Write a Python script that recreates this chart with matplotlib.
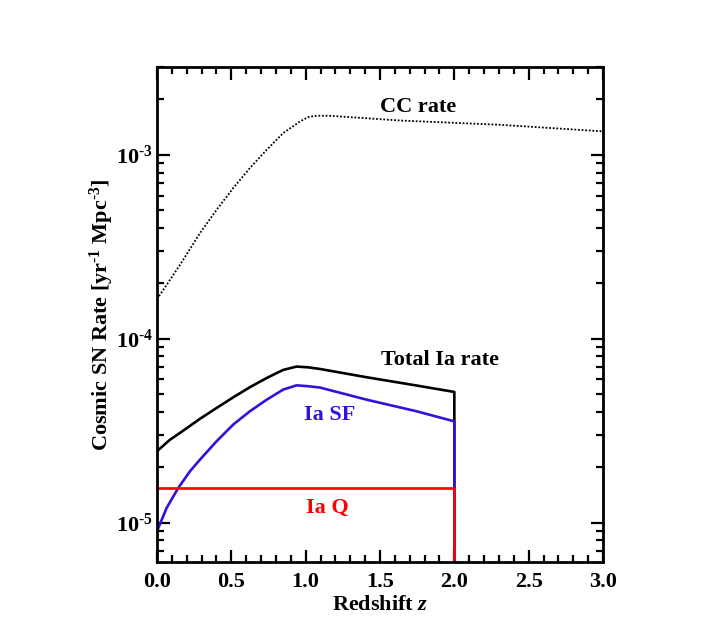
import matplotlib
matplotlib.use("Agg")
import matplotlib.pyplot as plt
from matplotlib.ticker import MultipleLocator, LogLocator, NullFormatter, FixedLocator

# ---- data ----
cc_z = [0.0, 0.036, 0.155, 0.289, 0.401, 0.513, 0.625, 0.738, 0.849, 0.962,
        1.017, 1.074, 1.163, 1.634, 2.307, 3.0]
cc_rate = [1.64e-4, 1.81e-4, 2.52e-4, 3.75e-4, 5.02e-4, 6.59e-4, 8.47e-4, 1.064e-3,
           1.312e-3, 1.517e-3, 1.603e-3, 1.629e-3, 1.629e-3, 1.535e-3, 1.455e-3, 1.340e-3]

tot_z = [0.0, 0.087, 0.177, 0.289, 0.401, 0.513, 0.625, 0.738, 0.849, 0.939,
         1.017, 1.096, 1.41, 1.746, 2.0, 2.0]
ia_total = [2.443e-5, 2.818e-5, 3.162e-5, 3.664e-5, 4.198e-5, 4.797e-5, 5.445e-5,
            6.109e-5, 6.761e-5, 7.047e-5, 6.982e-5, 6.839e-5, 6.166e-5, 5.559e-5,
            5.129e-5, 1e-7]

sf_z = [0.0, 0.065, 0.143, 0.222, 0.289, 0.401, 0.513, 0.625, 0.738, 0.849, 0.939,
        1.017, 1.096, 1.41, 1.746, 2.0, 2.0]
ia_sf = [8.97e-6, 1.202e-5, 1.542e-5, 1.901e-5, 2.198e-5, 2.767e-5, 3.412e-5,
         4.027e-5, 4.656e-5, 5.284e-5, 5.572e-5, 5.51e-5, 5.42e-5, 4.656e-5,
         4.027e-5, 3.548e-5, 1e-7]

q_z = [0.0, 2.0, 2.0]
ia_q = [1.54e-5, 1.54e-5, 1e-7]

xlim = (0.0, 3.0)
ylim = (6.1e-6, 3.0e-3)
xticks = [0.0, 0.5, 1.0, 1.5, 2.0, 2.5, 3.0]
xticklabels = ["0.0", "0.5", "1.0", "1.5", "2.0", "2.5", "3.0"]
yticks = [1e-5, 1e-4, 1e-3]
yticklabels = [r"10$^{\text{-}5}$", r"10$^{\text{-}4}$", r"10$^{\text{-}3}$"]

FONT = "Liberation Serif"
plt.rcParams["font.family"] = [FONT, "DejaVu Serif"]
plt.rcParams["mathtext.fontset"] = "custom"
plt.rcParams["mathtext.rm"] = FONT + ":bold"
plt.rcParams["mathtext.it"] = FONT + ":bold:italic"
plt.rcParams["mathtext.bf"] = FONT + ":bold"
plt.rcParams["font.weight"] = "bold"

fig = plt.figure(figsize=(7.06, 6.42), dpi=100)
ax = fig.add_axes([157/706, 1-562/642, 446/706, 495/642])

ax.plot(cc_z, cc_rate, color="black", lw=1.3, linestyle=(0, (1, 1.0)))
ax.plot(tot_z, ia_total, color="black", lw=1.9)
ax.plot(sf_z, ia_sf, color="#3311dd", lw=1.9)
ax.plot(q_z, ia_q, color="#ff0000", lw=1.9)

ax.set_yscale("log")
ax.set_xlim(*xlim)
ax.set_ylim(*ylim)

ax.xaxis.set_major_locator(FixedLocator(xticks))
ax.set_xticklabels(xticklabels)
ax.xaxis.set_minor_locator(MultipleLocator(0.1))
ax.yaxis.set_major_locator(FixedLocator(yticks))
ax.set_yticklabels(yticklabels)
ax.yaxis.set_minor_locator(LogLocator(base=10, subs=range(2, 10)))
ax.yaxis.set_minor_formatter(NullFormatter())

ax.tick_params(which="both", direction="in", top=True, right=True, width=1.6, labelsize=16)
ax.tick_params(which="major", length=9)
ax.tick_params(which="minor", length=5)
ax.tick_params(axis="x", which="major", pad=7)
ax.tick_params(axis="y", which="major", pad=3)
for s in ax.spines.values():
    s.set_linewidth(2.0)
for lab in ax.get_xticklabels() + ax.get_yticklabels():
    lab.set_fontweight("bold")

ax.set_xlabel("Redshift $z$", fontsize=16, fontweight="bold", labelpad=2)
ax.set_ylabel(r"Cosmic SN Rate [yr$^{\text{-}1}$ Mpc$^{\text{-}3}$]", fontsize=16,
              fontweight="bold", labelpad=0)

ax.text(0.585, 0.919, "CC rate", transform=ax.transAxes, ha="center", va="center",
        fontsize=16, fontweight="bold", color="black")
ax.text(0.635, 0.408, "Total Ia rate", transform=ax.transAxes, ha="center", va="center",
        fontsize=16, fontweight="bold", color="black")
ax.text(0.388, 0.297, "Ia SF", transform=ax.transAxes, ha="center", va="center",
        fontsize=16, fontweight="bold", color="#3311dd")
ax.text(0.381, 0.109, "Ia Q", transform=ax.transAxes, ha="center", va="center",
        fontsize=16, fontweight="bold", color="#ff0000")

fig.savefig("out.png", dpi=100)
